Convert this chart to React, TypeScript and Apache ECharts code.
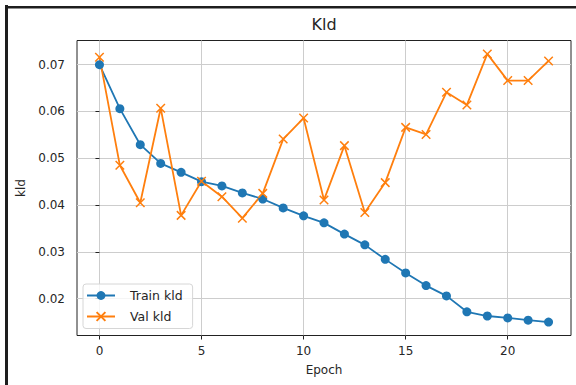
import React, { useEffect, useRef } from "react";
import * as echarts from "echarts";

const epochs = [0, 1, 2, 3, 4, 5, 6, 7, 8, 9, 10, 11, 12, 13, 14, 15, 16, 17, 18, 19, 20, 21, 22];
const trainKld = [0.0700, 0.0606, 0.0529, 0.0489, 0.0470, 0.0450, 0.0441, 0.0426, 0.0413, 0.0394, 0.0377, 0.0362, 0.0338, 0.0315, 0.0284, 0.0255, 0.0228, 0.0206, 0.0172, 0.0163, 0.0159, 0.0154, 0.0150];
const valKld = [0.0716, 0.0485, 0.0405, 0.0607, 0.0378, 0.0451, 0.0418, 0.0372, 0.0425, 0.0541, 0.0586, 0.0411, 0.0527, 0.0384, 0.0448, 0.0566, 0.0551, 0.0641, 0.0614, 0.0723, 0.0666, 0.0666, 0.0708];
const xTicks = [0, 5, 10, 15, 20];
const yTicks = [0.02, 0.03, 0.04, 0.05, 0.06, 0.07];

const FONT = "DejaVu Sans";
const TEXT = "#262626";

export default function App() {
  const ref = useRef<HTMLDivElement>(null);
  useEffect(() => {
    if (!ref.current) return;
    const chart = echarts.init(ref.current, null, { renderer: "svg" });
    const all = trainKld.concat(valKld);
    const lo = Math.min(...all), hi = Math.max(...all);
    const pad = (hi - lo) * 0.05;
    chart.setOption({
      animation: false,
      backgroundColor: "#ffffff",
      textStyle: { fontFamily: FONT },
      title: {
        text: "Kld",
        left: 324,
        textAlign: "center",
        top: 16,
        padding: 0,
        textStyle: { fontFamily: FONT, fontSize: 16, fontWeight: "normal", color: TEXT },
      },
      graphic: [
        { type: "rect", shape: { x: 5, y: 5, width: 3, height: 380 }, style: { fill: "#1e1e1e" }, z: 100 },
        { type: "rect", shape: { x: 5, y: 6, width: 571, height: 2.5 }, style: { fill: "#1e1e1e" }, z: 100 },
      ],
      grid: {
        left: 77,
        right: 5,
        top: 40.5,
        bottom: 49.5,
        show: true,
        borderColor: "#222",
        borderWidth: 1,
        backgroundColor: "#fff",
        containLabel: false,
      },
      legend: {
        left: 83,
        top: 284,
        orient: "vertical",
        itemWidth: 28,
        itemHeight: 11,
        itemGap: 8,
        padding: [5, 10, 5.5, 3],
        backgroundColor: "rgba(255,255,255,0.8)",
        borderColor: "#d6d6d6",
        borderWidth: 1,
        borderRadius: 3,
        textStyle: { fontFamily: FONT, fontSize: 12.5, color: TEXT, padding: [0, 0, 0, 10] },
        data: ["Train kld", "Val kld"],
      },
      xAxis: {
        type: "value",
        min: -1.1,
        max: 23.1,
        name: "Epoch",
        nameLocation: "middle",
        nameGap: 28,
        nameTextStyle: { fontFamily: FONT, fontSize: 12, color: TEXT },
        axisLine: { show: false },
        axisTick: { show: true, length: 4, customValues: xTicks, lineStyle: { color: "#222", width: 1 } },
        axisLabel: { customValues: xTicks, margin: 9, fontFamily: FONT, fontSize: 12, color: TEXT },
        splitLine: { show: true, lineStyle: { color: "#cdcdcd", width: 1 } },
      },
      yAxis: {
        type: "value",
        min: lo - pad,
        max: hi + pad,
        name: "kld",
        nameLocation: "middle",
        nameGap: 50,
        nameTextStyle: { fontFamily: FONT, fontSize: 12, color: TEXT },
        axisLine: { show: false },
        axisTick: { show: true, length: 4, customValues: yTicks, lineStyle: { color: "#222", width: 1 } },
        axisLabel: {
          customValues: yTicks,
          margin: 12,
          fontFamily: FONT,
          fontSize: 12,
          color: TEXT,
          formatter: (v: number) => v.toFixed(2),
        },
        splitLine: { show: true, lineStyle: { color: "#cdcdcd", width: 1 } },
      },
      series: [
        {
          name: "Train kld",
          type: "line",
          data: epochs.map((e, i) => [e, trainKld[i]]),
          symbol: "circle",
          symbolSize: 9,
          lineStyle: { color: "#1f77b4", width: 1.8 },
          itemStyle: { color: "#1f77b4", borderWidth: 0 },
        },
        {
          name: "Val kld",
          type: "line",
          data: epochs.map((e, i) => [e, valKld[i]]),
          symbol: "path://M0,0L10,10M10,0L0,10",
          symbolSize: 8.5,
          lineStyle: { color: "#ff7f0e", width: 1.8 },
          itemStyle: { color: "#ff7f0e", borderColor: "#ff7f0e", borderWidth: 1.5 },
        },
      ],
    });
    return () => chart.dispose();
  }, []);
  return <div ref={ref} style={{ position: "fixed", left: 0, top: 0, width: 576, height: 385 }} />;
}
